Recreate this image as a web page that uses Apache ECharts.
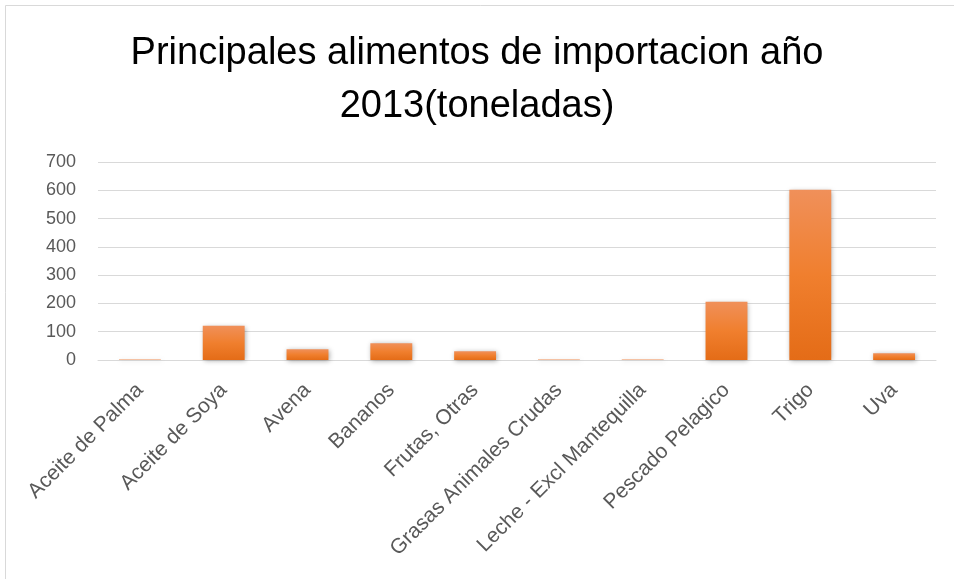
<!DOCTYPE html>
<html>
<head>
<meta charset="utf-8">
<script src="https://cdn.jsdelivr.net/npm/echarts@6/dist/echarts.min.js"></script>
<style>
html,body{margin:0;padding:0;background:#fff;}
#chart{width:954px;height:579px;}
</style>
</head>
<body>
<div id="chart"></div>
<script>
// Import volumes by product, 2013 (tonnes)
const categories = ['Aceite de Palma','Aceite de Soya','Avena','Bananos','Frutas, Otras','Grasas Animales Crudas','Leche - Excl Mantequilla','Pescado Pelagico','Trigo','Uva'];
const values = [2, 121, 38, 59, 31, 2, 2, 206, 602, 24];
const yTicks = [0, 100, 200, 300, 400, 500, 600, 700];

const chart = echarts.init(document.getElementById('chart'));
const FONT = '"Liberation Sans", Arial, sans-serif';

chart.setOption({
  backgroundColor: '#ffffff',
  animation: false,
  graphic: [{
    type: 'rect',
    shape: { x: 5.5, y: 5.5, width: 960, height: 600 },
    style: { fill: 'none', stroke: '#d9d9d9', lineWidth: 1 }
  }],
  title: {
    text: 'Principales alimentos de importacion año\n2013(toneladas)',
    left: 'center',
    top: 22,
    textStyle: {
      fontFamily: FONT,
      fontSize: 38,
      fontWeight: 'normal',
      color: '#000000',
      lineHeight: 53
    }
  },
  grid: { left: 98, right: 18, top: 162, bottom: 219 },
  xAxis: {
    type: 'category',
    data: categories,
    axisLine: { lineStyle: { color: '#d9d9d9', width: 1 } },
    axisTick: { show: false },
    axisLabel: {
      rotate: 45,
      interval: 0,
      margin: 27,
      fontFamily: FONT,
      fontSize: 21,
      color: '#595959'
    }
  },
  yAxis: {
    type: 'value',
    min: yTicks[0],
    max: yTicks[yTicks.length - 1],
    interval: 100,
    axisLine: { show: false },
    axisTick: { show: false },
    splitLine: { lineStyle: { color: '#d9d9d9', width: 1 } },
    axisLabel: {
      margin: 22,
      fontFamily: FONT,
      fontSize: 18,
      color: '#595959'
    }
  },
  series: [{
    type: 'bar',
    data: values,
    barWidth: '50%',
    itemStyle: {
      color: new echarts.graphic.LinearGradient(0, 0, 0, 1, [
        { offset: 0, color: '#f0905a' },
        { offset: 0.5, color: '#f07f2e' },
        { offset: 1, color: '#e46c17' }
      ]),
      shadowColor: 'rgba(0,0,0,0.35)',
      shadowBlur: 5,
      shadowOffsetX: 1,
      shadowOffsetY: 1
    }
  }]
});
</script>
</body>
</html>
